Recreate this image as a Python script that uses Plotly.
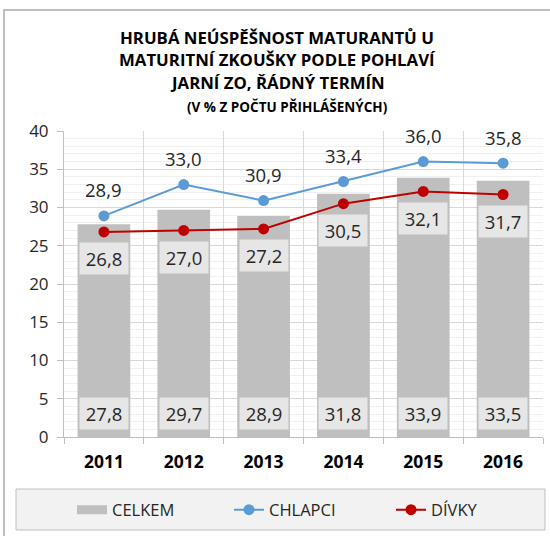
import plotly.graph_objects as go

years = ["2011", "2012", "2013", "2014", "2015", "2016"]
celkem = [27.8, 29.7, 28.9, 31.8, 33.9, 33.5]
chlapci = [28.9, 33.0, 30.9, 33.4, 36.0, 35.8]
divky = [26.8, 27.0, 27.2, 30.5, 32.1, 31.7]

title_lines = ["HRUBÁ NEÚSPĚŠNOST MATURANTŮ U",
               "MATURITNÍ ZKOUŠKY PODLE POHLAVÍ",
               "JARNÍ ZO, ŘÁDNÝ TERMÍN",
               "(V % Z POČTU PŘIHLÁŠENÝCH)"]

FONT = "Open Sans"
W, H = 550, 536
L, R, T, B = 64, 7, 131, 99
PW, PH = W - L - R, H - T - B

def px(x):
    return (x - L) / PW

def py(y):
    return (H - B - y) / PH

def fmt(v):
    return f"{v:.1f}".replace(".", ",")

BAR_C = "#bfbfbf"
fig = go.Figure()
fig.add_trace(go.Bar(x=years, y=celkem, name="CELKEM", marker_color=BAR_C,
                     marker_line_width=0, showlegend=False))
# legend entry for the bar series drawn as a wide swatch
fig.add_trace(go.Scatter(x=[None], y=[None], name="CELKEM", mode="lines",
                         line=dict(color=BAR_C, width=9), legend="legend"))
fig.add_trace(go.Scatter(x=years, y=chlapci, name="CHLAPCI", mode="lines+markers",
                         line=dict(color="#5b9bd5", width=2),
                         marker=dict(color="#5b9bd5", size=11), legend="legend2"))
fig.add_trace(go.Scatter(x=years, y=divky, name="DÍVKY", mode="lines+markers",
                         line=dict(color="#c00000", width=2),
                         marker=dict(color="#c00000", size=11), legend="legend3"))

annotations = []
lab_font = dict(family=FONT, size=18.5, color="#262626")
for i, v in enumerate(chlapci):
    annotations.append(dict(x=i, y=v, text=fmt(v), showarrow=False, yshift=26,
                            font=lab_font))
for i, v in enumerate(divky):
    annotations.append(dict(x=i, y=v, text=fmt(v), showarrow=False, yshift=-27,
                            bgcolor="#e6e6e6", width=46, height=29, font=lab_font))
for i, v in enumerate(celkem):
    annotations.append(dict(x=i, y=0, text=fmt(v), showarrow=False, yanchor="bottom",
                            yshift=7, bgcolor="#e6e6e6", width=46, height=29,
                            font=lab_font))

title_pos = [(277, 37, 16.8), (277, 60, 16.8), (277, 83, 16.8), (287, 107, 13.5)]
for txt, (tx, ty, fs) in zip(title_lines, title_pos):
    annotations.append(dict(xref="paper", yref="paper", x=px(tx), y=py(ty),
                            xanchor="center", yanchor="middle", showarrow=False,
                            text=f"<b>{txt}</b>",
                            font=dict(family=FONT, size=fs, color="#000000")))

shapes = [
    dict(type="rect", xref="paper", yref="paper", x0=px(4), x1=px(560), y0=py(10), y1=py(560),
         line=dict(color="#bfbfbf", width=2), fillcolor="rgba(0,0,0,0)", layer="below"),
    dict(type="rect", xref="paper", yref="paper", x0=px(16), x1=px(545), y0=py(489), y1=py(530),
         line=dict(color="#bfbfbf", width=1), fillcolor="#f2f2f2", layer="below"),
]

leg_font = dict(family=FONT, size=16.5, color="#262626")
def leg(xpix):
    return dict(orientation="h", x=px(xpix), xanchor="left", y=py(510), yanchor="middle",
                bgcolor="rgba(0,0,0,0)", font=leg_font)

fig.update_layout(
    width=W, height=H,
    margin=dict(l=L, r=R, t=T, b=B, pad=0),
    paper_bgcolor="white", plot_bgcolor="white",
    font=dict(family=FONT, color="#262626"),
    bargap=0.34,
    showlegend=True,
    legend=leg(72),
    legend2=leg(229),
    legend3=leg(391),
    annotations=annotations,
    shapes=shapes,
    xaxis=dict(type="category", range=[-0.5, len(years) - 0.5],
               tickson="boundaries", ticks="outside", ticklen=6,
               tickcolor="#bfbfbf", showgrid=True, gridcolor="#d9d9d9", gridwidth=1,
               showline=True, linecolor="#bfbfbf", linewidth=1,
               tickfont=dict(family=FONT, size=17.5, color="#000000", weight="bold"),
               ticklabelstandoff=9, fixedrange=True),
    yaxis=dict(range=[0, 40], dtick=5, ticks="outside", ticklen=6, tickcolor="#bfbfbf",
               showgrid=True, gridcolor="#d9d9d9", gridwidth=1, zeroline=False,
               showline=True, linecolor="#bfbfbf", linewidth=1,
               minor=dict(dtick=1, showgrid=True, gridcolor="#f0f0f0", gridwidth=1),
               tickfont=dict(family=FONT, size=17, color="#262626"),
               ticklabelstandoff=5, fixedrange=True),
)

fig.write_html("out.html", config={"displayModeBar": False},
               post_script="document.body.style.margin='0';document.body.style.padding='0';")
